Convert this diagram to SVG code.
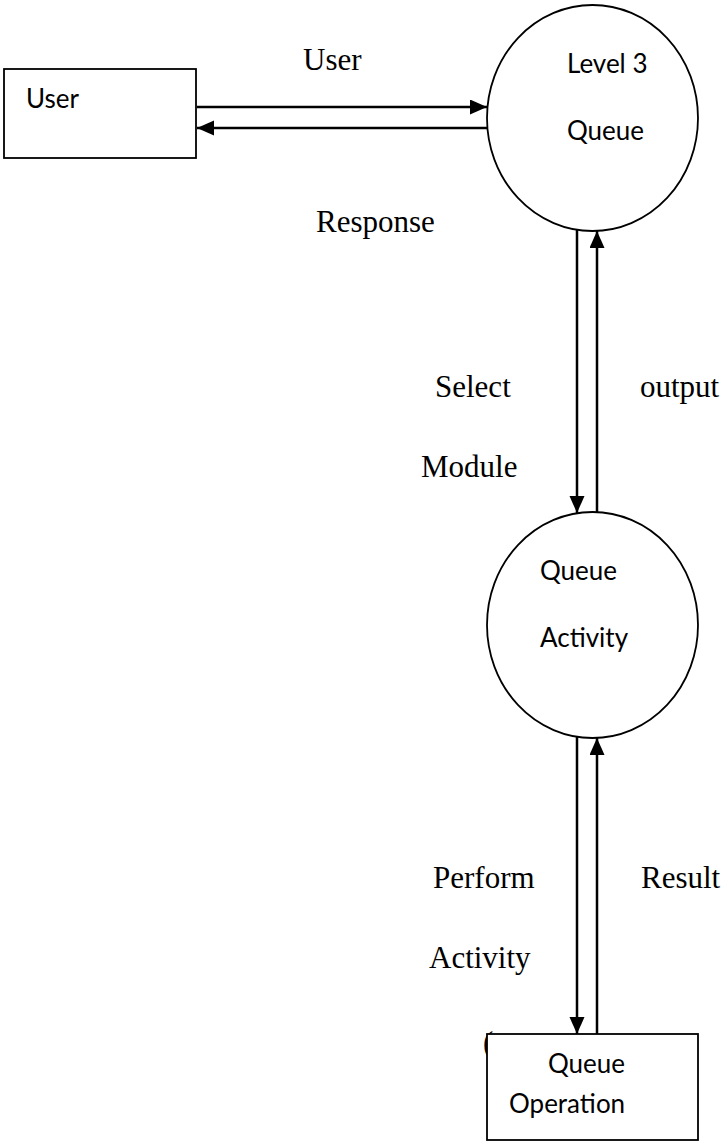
<svg xmlns="http://www.w3.org/2000/svg" width="724" height="1142" viewBox="0 0 724 1142">
  <style>
    .shape { fill: #ffffff; stroke: #000000; stroke-width: 1.8; }
    .flow { fill: none; stroke: #000000; stroke-width: 2.5; marker-end: url(#head); }
    .node-text { font-family: Lato, "Open Sans", sans-serif; font-size: 26px; fill: #000000; }
    .label { font-family: "Liberation Serif", "Times New Roman", serif; font-size: 31px; fill: #000000; }
  </style>
  <defs>
    <marker id="head" markerUnits="userSpaceOnUse" markerWidth="18" markerHeight="16" refX="17" refY="7.5" orient="auto">
      <path d="M0,0 L17,7.5 L0,15 z" fill="#000000"/>
    </marker>
  </defs>

  <rect width="724" height="1142" fill="#ffffff"/>

  <!-- flow labels -->
  <g id="labels">
    <text class="label" x="303" y="70">User</text>
    <text class="label" x="316" y="232">Response</text>
    <text class="label" x="435" y="397">Select</text>
    <text class="label" x="640" y="397">output</text>
    <text class="label" x="421" y="477">Module</text>
    <text class="label" x="433" y="888">Perform</text>
    <text class="label" x="641" y="888">Result</text>
    <text class="label" x="429" y="968">Activity</text>
    <text class="label" x="483" y="1053">(</text>
  </g>

  <!-- data flows -->
  <g id="connectors">
    <line class="flow" x1="197" y1="107" x2="487" y2="107"/>
    <line class="flow" x1="487" y1="128" x2="197" y2="128"/>
    <line class="flow" x1="577" y1="230" x2="577" y2="513"/>
    <line class="flow" x1="597" y1="512" x2="597" y2="231"/>
    <line class="flow" x1="577" y1="737" x2="577" y2="1034"/>
    <line class="flow" x1="597" y1="1034" x2="597" y2="738"/>
  </g>

  <g id="node-user">
    <rect class="shape" x="4" y="69" width="192" height="89"/>
    <text class="node-text" x="26" y="108">User</text>
  </g>

  <g id="node-level3-queue">
    <ellipse class="shape" cx="592.5" cy="118" rx="105.5" ry="113"/>
    <text class="node-text" x="567" y="73">Level 3</text>
    <text class="node-text" x="567" y="140">Queue</text>
  </g>

  <g id="node-queue-activity">
    <ellipse class="shape" cx="592.5" cy="625" rx="105.5" ry="113"/>
    <text class="node-text" x="540" y="580">Queue</text>
    <text class="node-text" x="540" y="647">Activity</text>
  </g>

  <g id="node-queue-operation">
    <rect class="shape" x="487" y="1034" width="211" height="106"/>
    <text class="node-text" x="548" y="1073">Queue</text>
    <text class="node-text" x="509" y="1113">Operation</text>
  </g>
</svg>
